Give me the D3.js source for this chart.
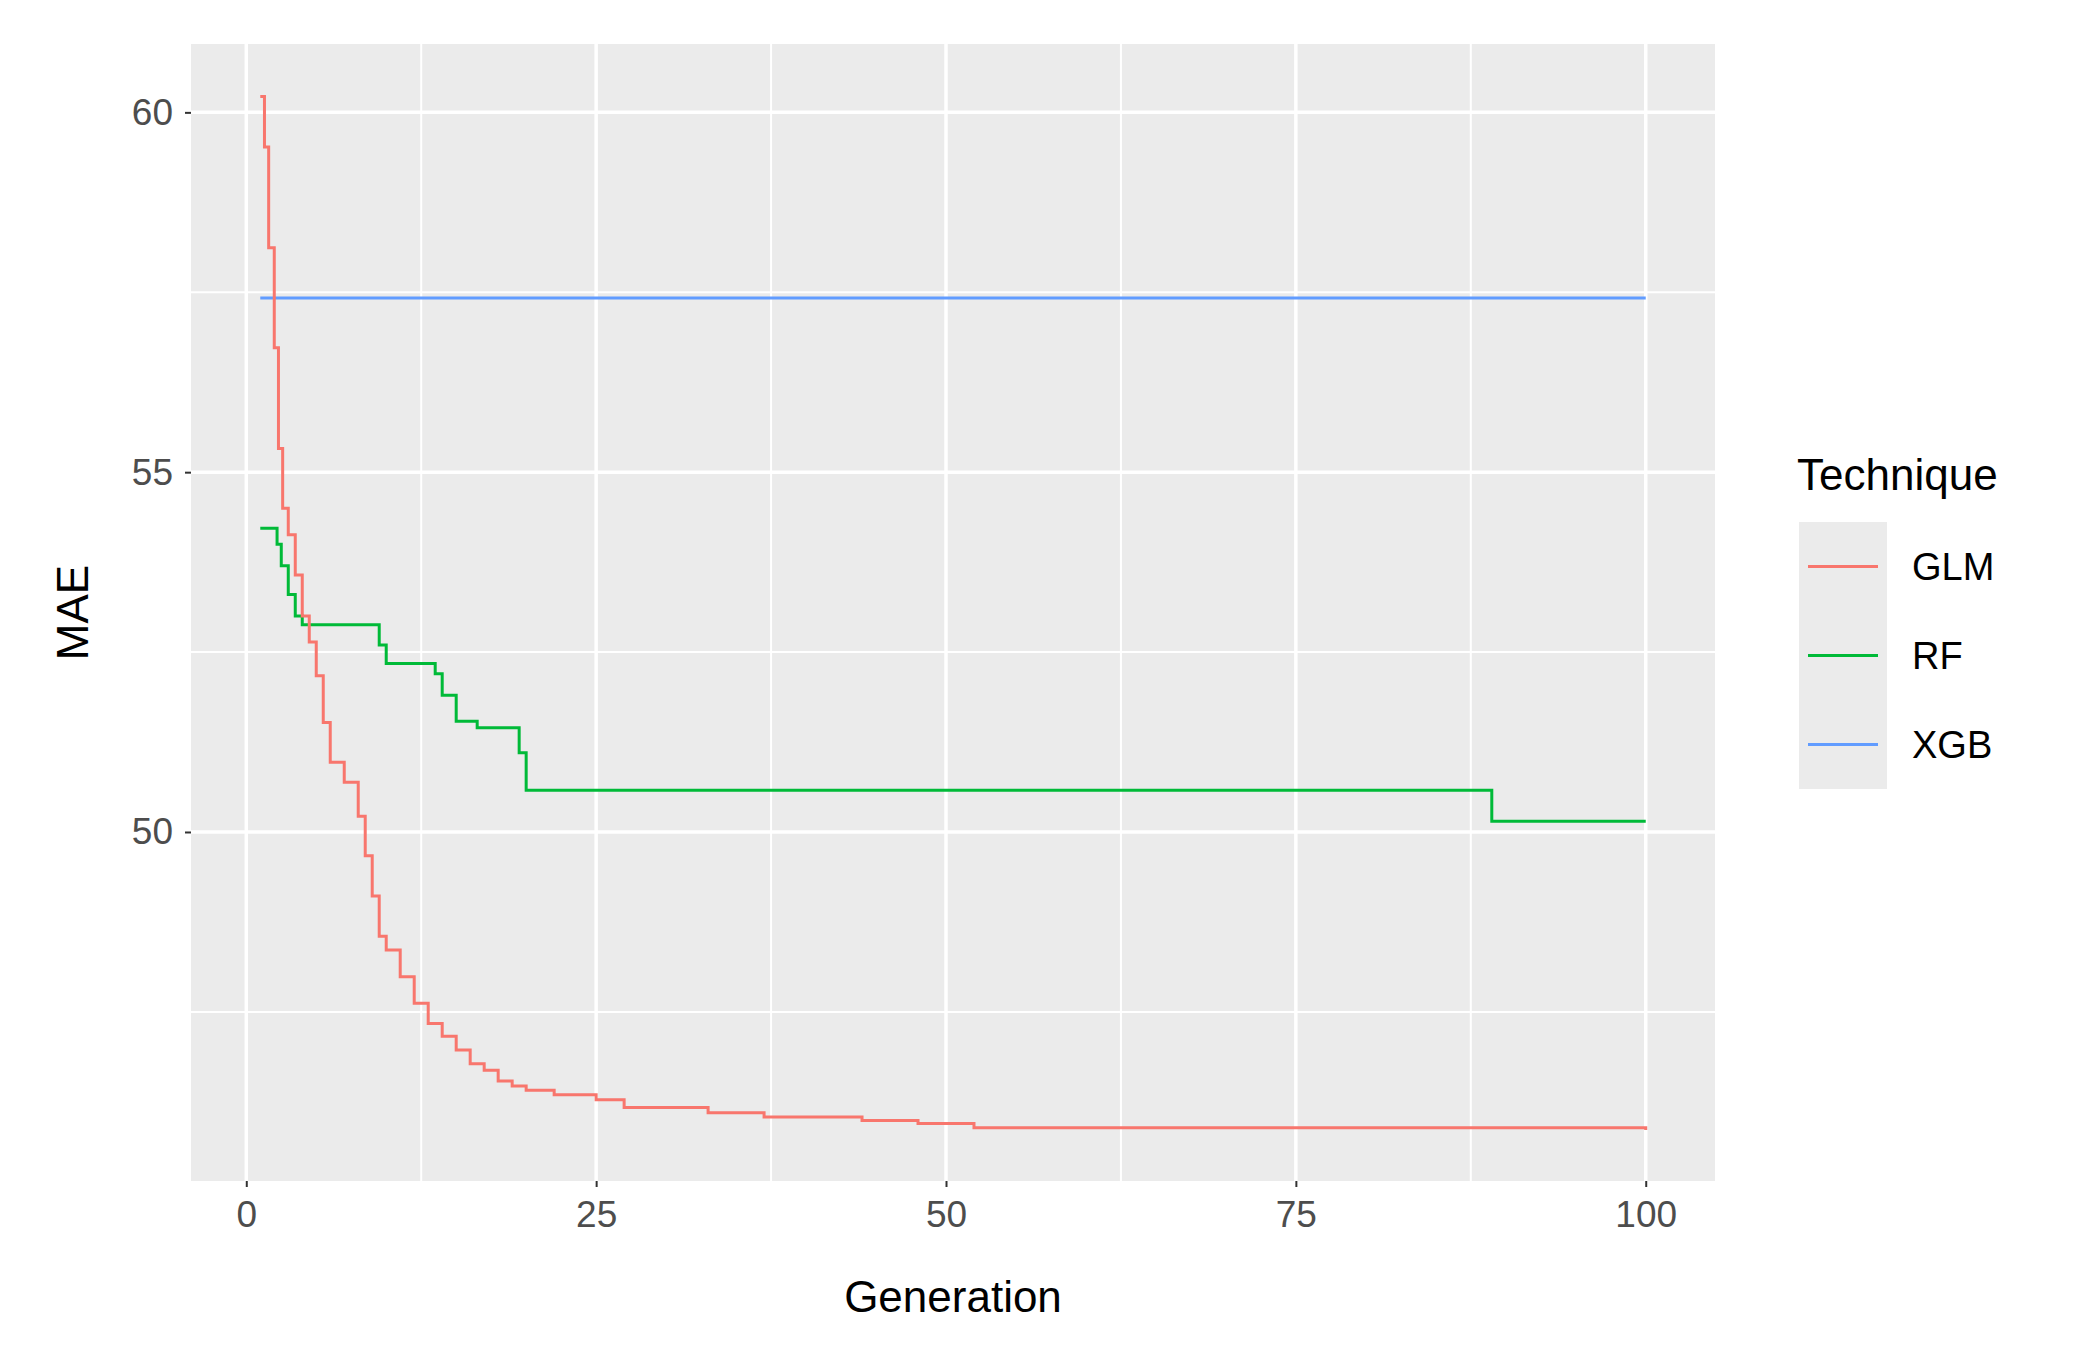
<!DOCTYPE html>
<html>
<head>
<meta charset="utf-8">
<script src="https://cdn.jsdelivr.net/npm/d3@7"></script>
<style>
body { margin: 0; background: #fff; }
text { font-family: Arial, "Liberation Sans", sans-serif; }
</style>
</head>
<body>
<svg id="chart" width="2097" height="1370"></svg>
<script>
// data
var glmGen = [1, 1.3, 1.6, 2.0, 2.3, 2.6, 3, 3.5, 4, 4.5, 5, 5.5, 6, 7, 8, 8.5, 9, 9.5, 10, 11, 12, 13, 14, 15, 16, 17, 18, 19, 20, 22, 25, 27, 33, 37, 44, 48, 52, 100];
var glmMae = [60.22, 59.52, 58.12, 56.73, 55.33, 54.5, 54.13, 53.57, 53.0, 52.64, 52.17, 51.52, 50.97, 50.69, 50.22, 49.67, 49.11, 48.55, 48.36, 47.99, 47.62, 47.34, 47.16, 46.97, 46.78, 46.69, 46.54, 46.47, 46.41, 46.35, 46.28, 46.17, 46.10, 46.04, 45.99, 45.95, 45.89, 45.86];
var rfGen = [1, 2.2, 2.5, 3, 3.5, 4, 9, 9.5, 10, 13, 13.5, 14, 15, 16.5, 19, 19.5, 20, 88, 89, 100];
var rfMae = [54.22, 54.0, 53.7, 53.3, 53.0, 52.88, 52.88, 52.6, 52.34, 52.34, 52.2, 51.9, 51.54, 51.45, 51.45, 51.1, 50.58, 50.58, 50.15, 50.15];
var xgbGen = [1, 100];
var xgbMae = [57.42, 57.42];
var techniques = ["GLM", "RF", "XGB"];
var colors = ["#F8766D", "#00BA38", "#619CFF"];
var xTicks = [0, 25, 50, 75, 100];
var yTicks = [50, 55, 60];

var svg = d3.select("#chart");
var L = 191, R = 1715, T = 44, B = 1181;

var x = d3.scaleLinear().domain([-3.95, 104.95]).range([L, R]);
var y = d3.scaleLinear().domain([45.15, 60.95]).range([B, T]);

svg.append("rect").attr("x", L).attr("y", T).attr("width", R - L).attr("height", B - T).attr("fill", "#EBEBEB");

// minor grid
[12.5, 37.5, 62.5, 87.5].forEach(function(v){
    svg.append("line").attr("x1", x(v)).attr("x2", x(v)).attr("y1", T).attr("y2", B).attr("stroke", "#fff").attr("stroke-width", 2);
});
[47.5, 52.5, 57.5].forEach(function(v){
    svg.append("line").attr("x1", L).attr("x2", R).attr("y1", y(v)).attr("y2", y(v)).attr("stroke", "#fff").attr("stroke-width", 2);
});
// major grid
xTicks.forEach(function(v){
    svg.append("line").attr("x1", x(v)).attr("x2", x(v)).attr("y1", T).attr("y2", B).attr("stroke", "#fff").attr("stroke-width", 3.5);
});
yTicks.forEach(function(v){
    svg.append("line").attr("x1", L).attr("x2", R).attr("y1", y(v)).attr("y2", y(v)).attr("stroke", "#fff").attr("stroke-width", 3.5);
});

var xAxis = svg.append("g").attr("transform", "translate(0," + B + ")")
    .call(d3.axisBottom(x).tickValues(xTicks).tickSize(6).tickPadding(14));
var yAxis = svg.append("g").attr("transform", "translate(" + L + ",0)")
    .call(d3.axisLeft(y).tickValues(yTicks).tickSize(6).tickPadding(12));
[xAxis, yAxis].forEach(function(a){
    a.select(".domain").remove();
    a.selectAll("line").attr("stroke", "#333").attr("stroke-width", 2);
    a.selectAll("text").attr("fill", "#4D4D4D").style("font-size", "37px");
});

var line = d3.line().curve(d3.curveStepAfter).x(function(d){ return x(d[0]); }).y(function(d){ return y(d[1]); });
var series = [[glmGen, glmMae], [rfGen, rfMae], [xgbGen, xgbMae]];
// XGB first so GLM sits on top like the reference
[2, 1, 0].forEach(function(i){
    var pts = d3.zip(series[i][0], series[i][1]);
    svg.append("path").attr("d", line(pts)).attr("fill", "none")
        .attr("stroke", colors[i]).attr("stroke-width", 3);
});

svg.append("text").attr("x", (L + R) / 2).attr("y", 1312).attr("text-anchor", "middle")
    .style("font-size", "44px").attr("fill", "#000").text("Generation");
svg.append("text").attr("transform", "translate(88," + ((T + B) / 2) + ") rotate(-90)")
    .attr("text-anchor", "middle").style("font-size", "44px").attr("fill", "#000").text("MAE");

// legend
svg.append("text").attr("x", 1797).attr("y", 490).style("font-size", "44px").text("Technique");
techniques.forEach(function(t, i){
    var ky = 522 + i * 89;
    svg.append("rect").attr("x", 1799).attr("y", ky).attr("width", 88).attr("height", 89).attr("fill", "#EBEBEB");
    svg.append("line").attr("x1", 1808).attr("x2", 1878).attr("y1", ky + 44.5).attr("y2", ky + 44.5)
        .attr("stroke", colors[i]).attr("stroke-width", 3);
    svg.append("text").attr("x", 1912).attr("y", ky + 44.5).attr("dy", "0.36em").style("font-size", "38px").text(t);
});
</script>
</body>
</html>
